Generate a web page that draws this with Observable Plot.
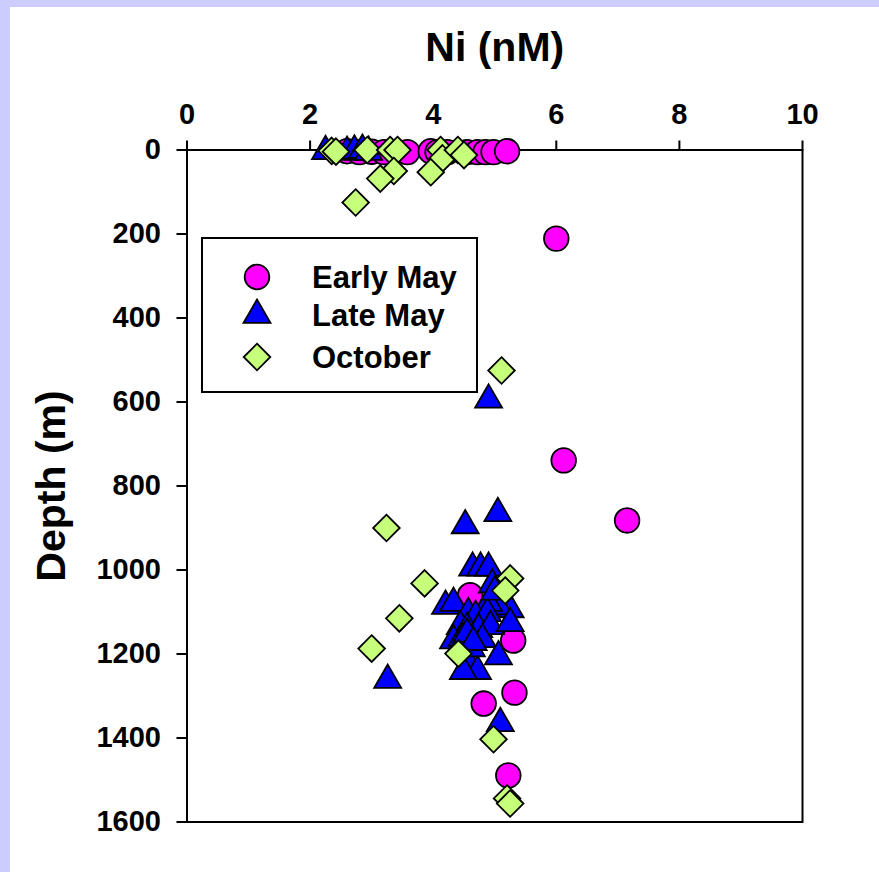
<!DOCTYPE html>
<html><head><meta charset="utf-8">
<script src="https://cdn.jsdelivr.net/npm/d3@7"></script>
<script src="https://cdn.jsdelivr.net/npm/@observablehq/plot@0.6"></script>
<style>
html,body{margin:0;padding:0;background:#ccccff;width:879px;height:872px;overflow:hidden;}
#wrap{position:absolute;left:10px;top:7px;width:869px;height:865px;background:#fff;}
#chart{position:absolute;left:0;top:0;}
#legend{position:absolute;left:191px;top:230px;width:273px;height:152px;border:2px solid #000;background:#fff;}
</style></head>
<body><div id="wrap"><div id="chart"></div><div id="legend"></div></div>
<script>
const seriesNames = ["Early May", "Late May", "October"];
const seriesColors = ["#ff00ff", "#0000ff", "#c6ff7a"];
const xTicks = [0, 2, 4, 6, 8, 10];
const yTicks = [0, 200, 400, 600, 800, 1000, 1200, 1400, 1600];

const earlyMayNi    = [2.6, 2.8, 3.0, 3.2, 3.58, 3.96, 4.07, 4.23, 4.55, 4.72, 4.85, 4.98, 5.2, 6.0, 6.12, 7.15, 4.6, 5.3, 5.32, 4.82, 5.22];
const earlyMayDepth = [3, 5, 4, 5, 5, 3, 5, 5, 5, 5, 5, 5, 3, 211, 739, 882, 1060, 1168, 1292, 1318, 1489];

const lateMayNi    = [2.25, 2.6, 2.72, 2.85, 2.95, 4.9, 5.05, 4.52, 3.26, 5.09, 4.64, 4.77, 4.9, 4.96, 4.2, 4.33, 5.25, 5.06, 4.9, 4.57, 4.69, 4.88, 4.44, 4.55, 4.74, 4.93, 5.25, 4.33, 4.47, 4.8, 5.06, 4.6, 4.72, 4.49, 4.45, 4.62, 5.0, 4.55, 4.65];
const lateMayDepth = [3, 5, 2, 0, 5, 595, 865, 894, 1262, 1365, 995, 995, 995, 1035, 1086, 1079, 1094, 1087, 1079, 1103, 1110, 1103, 1134, 1139, 1141, 1134, 1127, 1168, 1162, 1165, 1206, 1229, 1241, 1241, 1182, 1187, 1052, 1152, 1172];

const octoberNi    = [2.35, 2.42, 2.93, 3.3, 3.42, 3.36, 3.14, 2.74, 4.12, 4.15, 3.96, 4.4, 4.5, 5.11, 3.24, 3.86, 3.45, 3.0, 4.41, 5.25, 5.17, 4.98, 5.2, 5.25];
const octoberDepth = [2, 4, 0, 0, 0, 50, 68, 125, 0, 20, 53, 0, 12, 525, 900, 1032, 1115, 1187, 1199, 1020, 1049, 1403, 1544, 1556];

const toRows = (xs, ys) => xs.map((v, i) => ({ni: v, depth: ys[i]}));
const earlyMay = toRows(earlyMayNi, earlyMayDepth);
const lateMay = toRows(lateMayNi, lateMayDepth);
const october = toRows(octoberNi, octoberDepth);

const font = "'Liberation Sans', Arial, Helvetica, sans-serif";
const symR = {circle: 12.3, triangle: 10, diamond2: 12};

const chart = Plot.plot({
  width: 869, height: 865,
  marginLeft: 176.5, marginRight: 77, marginTop: 142.5, marginBottom: 50.5,
  style: {fontFamily: font, fontWeight: "bold", background: "transparent", overflow: "visible", color: "black"},
  x: {domain: [0, 10], axis: null},
  y: {domain: [0, 1600], reverse: true, axis: null},
  marks: [
    Plot.axisX({anchor: "top", ticks: xTicks, tickSize: 10, tickPadding: 16, fontSize: 29, label: null, strokeWidth: 2, tickFormat: d => String(d)}),
    Plot.axisY({anchor: "left", ticks: yTicks, tickSize: 10, tickPadding: 16, fontSize: 29, label: null, strokeWidth: 2, tickFormat: d => String(d)}),
    Plot.frame({stroke: "black", strokeWidth: 2}),
    Plot.dot(earlyMay, {x: "ni", y: "depth", symbol: "circle", r: symR.circle, fill: seriesColors[0], stroke: "black", strokeWidth: 1.8}),
    Plot.dot(lateMay, {x: "ni", y: "depth", symbol: "triangle", r: symR.triangle, fill: seriesColors[1], stroke: "black", strokeWidth: 1.8}),
    Plot.dot(october, {x: "ni", y: "depth", symbol: "diamond2", r: symR.diamond2, fill: seriesColors[2], stroke: "black", strokeWidth: 1.8}),
    Plot.text(["Ni (nM)"], {frameAnchor: "top", lineAnchor: "middle", textAnchor: "middle", dy: -102, fontSize: 41, fontWeight: "bold", fill: "black"}),
    Plot.text(["Depth (m)"], {frameAnchor: "left", lineAnchor: "middle", textAnchor: "middle", dx: -135, rotate: -90, fontSize: 41, fontWeight: "bold", fill: "black"})
  ]
});
document.getElementById("chart").appendChild(chart);

// legend
const symbols = [d3.symbolCircle, d3.symbolTriangle, d3.symbolDiamond2];
const rVals = [symR.circle, symR.triangle, symR.diamond2];
const rowY = [38, 76, 118];
const lsvg = d3.select("#legend").append("svg").attr("width", 273).attr("height", 152)
  .style("font-family", font).style("font-weight", "bold");
seriesNames.forEach((name, i) => {
  lsvg.append("path")
    .attr("d", d3.symbol(symbols[i], Math.PI * rVals[i] * rVals[i])())
    .attr("transform", `translate(54,${rowY[i]})`)
    .attr("fill", seriesColors[i]).attr("stroke", "black").attr("stroke-width", 1.8);
  lsvg.append("text").attr("x", 109).attr("y", rowY[i]).attr("dy", "0.36em")
    .attr("font-size", 31).text(name);
});
</script></body></html>
